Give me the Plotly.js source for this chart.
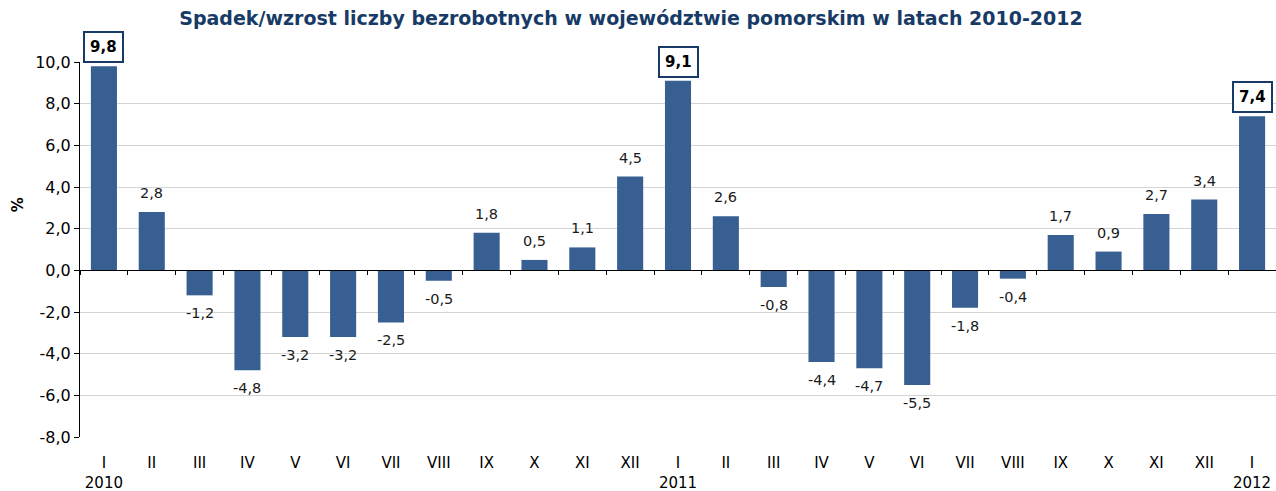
<!DOCTYPE html>
<html>
<head>
<meta charset="utf-8">
<script src="https://cdn.plot.ly/plotly-3.0.1.min.js"></script>
<style>
html, body { margin: 0; padding: 0; background: #ffffff; }
#chart { width: 1276px; height: 491px; }
</style>
</head>
<body>
<div id="chart"></div>
<script>
// ---- data ----
const months = ['I','II','III','IV','V','VI','VII','VIII','IX','X','XI','XII',
                'I','II','III','IV','V','VI','VII','VIII','IX','X','XI','XII','I'];
const years  = ['2010','','','','','','','','','','','',
                '2011','','','','','','','','','','','','2012'];
const values = [9.8, 2.8, -1.2, -4.8, -3.2, -3.2, -2.5, -0.5, 1.8, 0.5, 1.1, 4.5,
                9.1, 2.6, -0.8, -4.4, -4.7, -5.5, -1.8, -0.4, 1.7, 0.9, 2.7, 3.4, 7.4];
const yTicks = [-8, -6, -4, -2, 0, 2, 4, 6, 8, 10];

const idx = values.map((v, i) => i);
const tickText = months.map((m, i) => years[i] ? m + '<br>' + years[i] : m);
const fmt = v => v.toFixed(1).replace('.', ',');

const BAR = '#375f92';
const NAVY = '#173a66';
const FONT = 'DejaVu Sans, Verdana, sans-serif';

const traces = [
  {
    type: 'bar', x: idx, y: values,
    marker: { color: BAR, line: { width: 0 } },
    hoverinfo: 'skip', showlegend: false
  },
  {
    // invisible twin used only to carry the category-boundary ticks on the zero line
    type: 'bar', x: idx, y: values, xaxis: 'x2', yaxis: 'y',
    marker: { color: 'rgba(0,0,0,0)' },
    hoverinfo: 'skip', showlegend: false
  }
];

const annotations = values.map((v, i) => {
  const boxed = years[i] !== '';
  const a = {
    xref: 'x', yref: 'y', x: i, y: v,
    text: boxed ? '<b>' + fmt(v) + '</b>' : fmt(v),
    showarrow: false, xanchor: 'center', yanchor: 'middle',
    yshift: v >= 0 ? 19 : -18,
    font: { family: FONT, size: boxed ? 15 : 14.5, color: boxed ? '#000000' : '#1a1a1a' }
  };
  if (boxed) {
    a.bordercolor = NAVY; a.borderwidth = 2; a.borderpad = 5; a.bgcolor = '#ffffff';
  }
  return a;
});

annotations.push({
  xref: 'paper', yref: 'paper', x: -0.052, y: 0.62,
  text: '<b>%</b>', showarrow: false, textangle: -90,
  xanchor: 'center', yanchor: 'middle',
  font: { family: FONT, size: 15, color: '#000000' }
});

const layout = {
  width: 1276, height: 491,
  margin: { l: 80, r: 0, t: 62, b: 54 },
  paper_bgcolor: '#ffffff', plot_bgcolor: '#ffffff',
  separators: ', ',
  bargap: 0.455,
  showlegend: false,
  title: {
    text: '<b>Spadek/wzrost liczby bezrobotnych w województwie pomorskim w latach 2010-2012</b>',
    xref: 'container', x: 0.4945, xanchor: 'center',
    yref: 'container', y: 0.962, yanchor: 'middle',
    font: { family: FONT, size: 19, color: NAVY }
  },
  xaxis: {
    range: [-0.5, 24.5], fixedrange: true,
    tickmode: 'array', tickvals: idx, ticktext: tickText,
    ticks: '', showline: false, showgrid: false, zeroline: false,
    ticklabelstandoff: 15,
    tickfont: { family: FONT, size: 15, color: '#000000' }
  },
  xaxis2: {
    overlaying: 'x', anchor: 'free', position: 8 / 18,
    range: [-0.5, 24.5], fixedrange: true,
    tickmode: 'linear', tick0: 0.5, dtick: 1,
    ticks: 'outside', ticklen: 4, tickwidth: 1, tickcolor: '#000000',
    showticklabels: false, showgrid: false, zeroline: false,
    showline: true, linecolor: '#000000', linewidth: 1
  },
  yaxis: {
    range: [-8, 10], fixedrange: true,
    tickmode: 'array', tickvals: yTicks, ticktext: yTicks.map(fmt),
    ticks: 'outside', ticklen: 5, tickwidth: 1, tickcolor: '#000000',
    showline: true, linecolor: '#000000', linewidth: 1,
    showgrid: true, gridcolor: '#d4d4d4', gridwidth: 1,
    zeroline: false,
    tickfont: { family: FONT, size: 16, color: '#000000' }
  },
  annotations: annotations
};

Plotly.newPlot('chart', traces, layout, { displayModeBar: false, staticPlot: true });
</script>
</body>
</html>
